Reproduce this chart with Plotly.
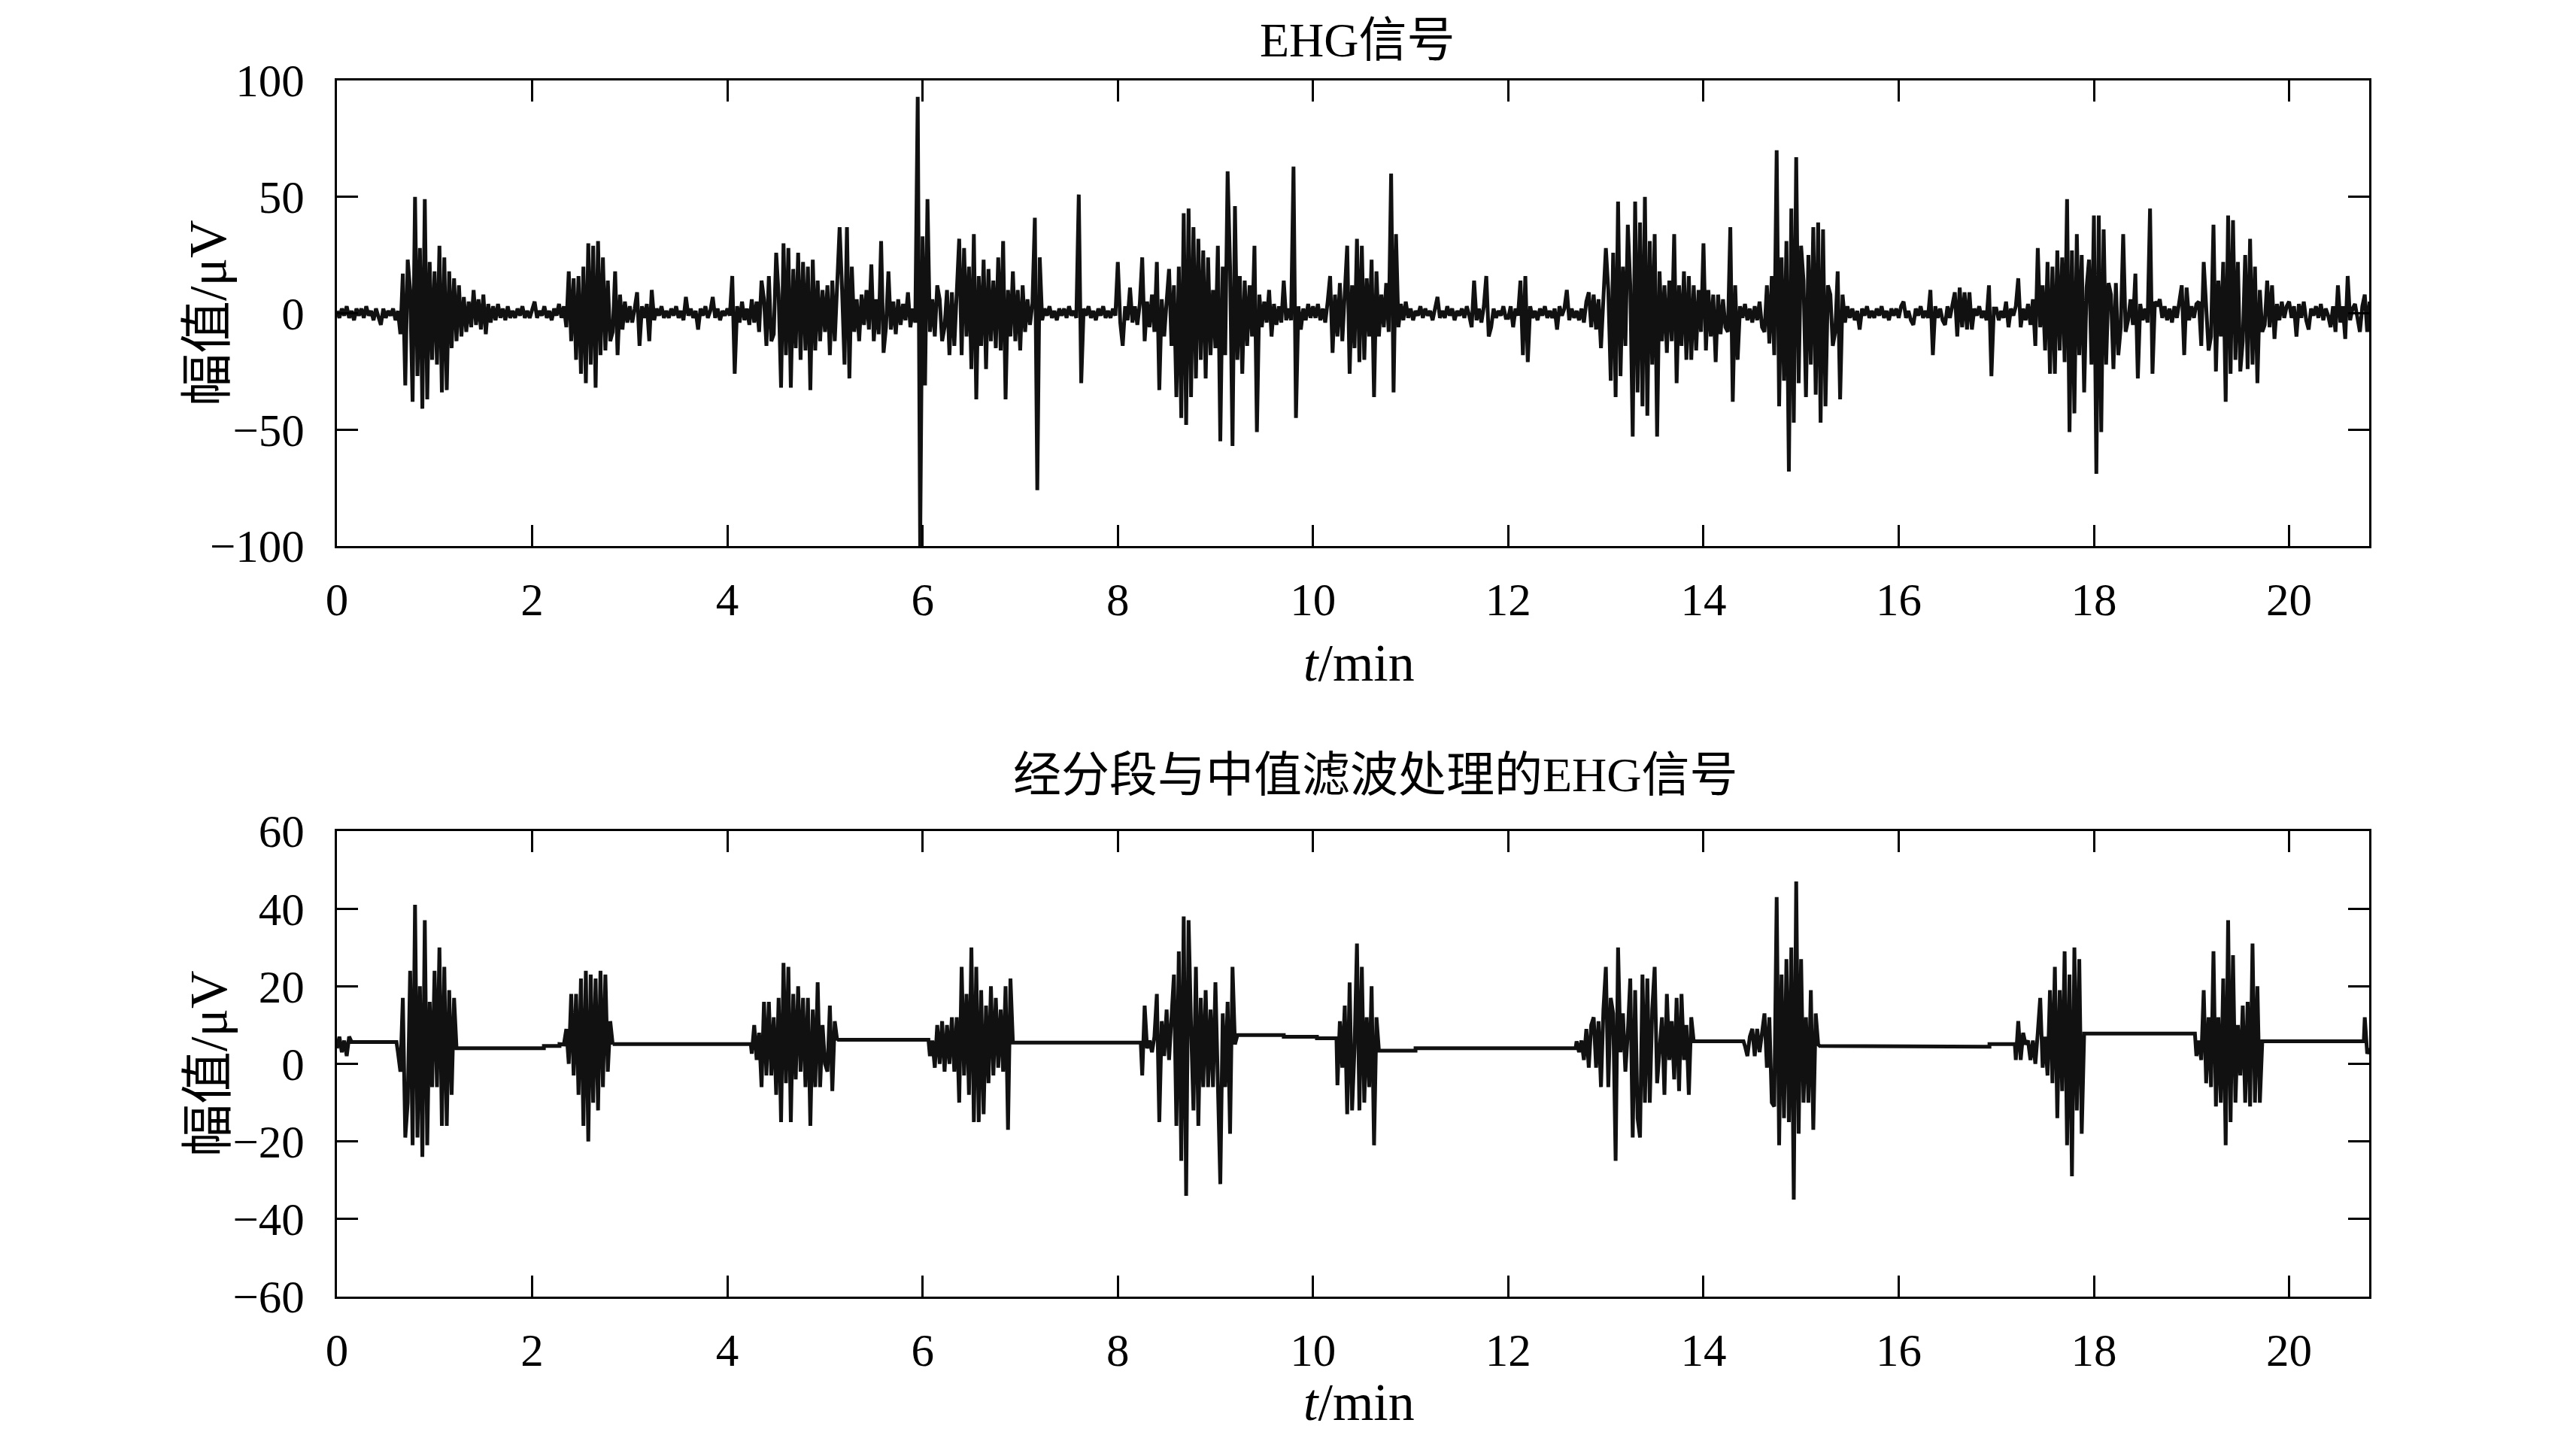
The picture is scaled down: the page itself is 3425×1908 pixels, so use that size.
import plotly.graph_objects as go

# ---------------- top panel: raw EHG signal, sampled every 0.025 min ----------------
TOP_DT = 0.025
top_m00 = [1,-2,2,-1,3,-2,1,-3,2,-1, 2,-2,3,-1,1,-3,2,-1,-5,2, -2,1,-1,2,-3,1,-9,17,-31,23, 10,-38,50,-27,28,-41,49,-37,22,-20]
top_m01 = [18,-22,29,-34,24,-33,18,-15,15,-12, 12,-10,7,-8,5,-6,10,-5,6,-7, 8,-9,4,-4,3,-3,4,-2,2,-3, 3,-2,1,-2,2,-1,3,-2,1,-2]
top_m02 = [2,5,-2,1,-1,3,-2,1,-3,2, -1,4,-2,3,-6,18,-12,15,-20,16, -26,20,-30,30,-22,29,-32,31,-18,24, -16,14,-12,-8,18,-18,8,-7,5,-4]
top_m03 = [3,-4,2,9,-14,3,-2,4,-12,10, -3,2,-1,3,-2,1,-2,2,-1,3, -2,1,-3,7,-1,2,-2,1,-7,2, -1,3,-2,1,7,-2,2,-3,1,-1]
top_m04 = [2,-1,16,-26,3,-4,5,-3,2,-5, 6,-4,5,-8,14,6,-14,16,-12,-9, 26,8,-32,30,-18,28,-32,19,-15,26, -20,22,-16,20,-33,23,-16,14,-12,10]
top_m05 = [-8,12,-18,14,-12,10,37,10,-22,37, -28,20,-8,6,-12,8,-5,10,-7,21, -12,6,-9,31,-17,-6,18,-7,5,-9, 6,-5,4,-3,9,-6,2,-4,93,-100]
top_m06 = [33,-31,49,-8,6,-10,12,6,-12,-6, 10,-18,9,-14,12,32,-18,28,-10,20, -24,34,-37,16,-14,23,-24,19,-12,14, -15,24,-16,31,-37,10,-10,18,-12,10]
top_m07 = [-16,12,-8,6,-5,4,41,-76,24,-3, 2,-1,3,-2,1,-3,2,-1,2,-2, 3,-1,1,-2,51,-30,2,-1,3,-2, 1,-3,2,-1,3,-2,1,-2,2,-1]
top_m08 = [22,-4,-14,3,-3,11,-4,3,-5,4, 24,-12,5,-6,8,-8,22,-33,6,-10, 5,19,-14,12,-36,20,-45,43,-48,45, -36,37,-28,32,-20,27,-28,24,-18,10]
top_m09 = [-15,29,-55,20,-18,61,20,-57,46,-20, 16,-26,14,-14,12,-10,29,-51,8,-6, 5,-4,10,-10,4,-5,3,-4,14,-3, 2,-3,63,-45,3,-7,2,-3,4,-2]
top_m10 = [3,-2,4,-3,2,-4,5,16,-17,8, -10,13,-12,10,29,-26,12,-15,32,-21, 29,-20,15,-10,23,-36,18,-10,8,-6, 13,-8,60,-34,34,-6,4,-3,5,-2]
top_m11 = [2,-3,1,-1,3,-2,2,-1,1,-3, 2,7,-2,1,-2,3,-1,2,-3,1, -1,2,-2,3,-1,-6,14,-3,2,-4, 3,16,-10,-6,2,-2,1,-1,3,-2]
top_m12 = [-2,3,-6,2,-1,14,-18,16,-21,3, -2,1,-3,2,-1,3,-2,1,-2,2, -7,3,-1,2,10,-3,2,-2,1,-3, 2,-4,5,9,-6,8,-7,6,-15,10]
top_m13 = [28,10,-29,26,-36,48,-27,20,-14,38, 12,-53,48,-34,39,-40,50,-44,31,-22, 34,-53,18,-12,12,-17,14,-12,34,-30, 12,-14,18,-20,16,-20,12,-16,10,-8]
top_m14 = [30,-16,10,-10,8,-21,8,-9,6,-6, -8,37,-38,12,-20,3,-2,4,-3,2, -4,3,-3,5,-6,-8,12,-13,16,-18, 70,-40,24,-29,31,-68,45,-47,67,-30]
top_m15 = [29,14,-36,25,-22,37,-35,39,-47,36, -40,12,8,-14,-8,18,-37,8,-4,3, -2,2,-3,1,-7,2,-1,3,-2,1, -2,2,-1,3,-2,1,-3,2,-1,2]
top_m16 = [-2,3,5,-2,1,-3,-5,2,-1,3, -2,1,-2,10,-18,3,-2,2,-3,-5, 3,-2,4,9,-10,11,-6,9,-7,9, -7,2,-1,3,-2,1,-3,12,-27,2]
top_m17 = [2,-3,1,-2,5,-6,2,-1,3,15, -6,2,-3,4,-5,6,-14,28,-6,12, -16,22,-26,20,-26,27,-16,24,-21,49, -51,27,-43,34,-18,25,-34,11,23,-22]
top_m18 = [42,-69,42,-51,36,-22,13,8,-24,13, -18,-6,34,-8,-3,6,-5,17,-28,4, -3,2,-4,45,-26,5,3,6,-2,3, -3,2,-4,3,-2,4,12,-18,11,-3]
top_m19 = [3,-2,4,5,-14,22,6,-16,-10,38, -25,14,-10,22,-38,42,-26,40,-20,22, -25,-12,25,-24,32,-22,20,-30,10,-8, -5,14,-6,12,-11,4,-3,5,-2,3]
top_m20 = [5,-2,3,-10,4,-2,5,-3,-7,2, -1,3,-2,4,-3,2,-1,-6,3,-8, 12,-4,3,-11,16,-3,2,4,-2,-8, 3,8,-8,5]

top_minutes = [top_m00, top_m01, top_m02, top_m03, top_m04, top_m05, top_m06,
               top_m07, top_m08, top_m09, top_m10, top_m11, top_m12, top_m13,
               top_m14, top_m15, top_m16, top_m17, top_m18, top_m19, top_m20]

# ---------------- bottom panel: segmented + median-filtered signal ----------------
BOT_DT = 0.025
bot_burst_start = [0.0, 0.625, 2.325, 4.25, 6.075, 8.25, 10.25, 12.70, 14.425, 17.2, 19.05, 20.775]
bot_b00 = [4,7,3,6,2,7,5.6]
bot_b01 = [3,-2,17,-19,-10,24,-21,41,-19,20, -24,37,-21,16,-6,24,-6,30,-16,25, -16,19,-8,17,4]
bot_b02 = [5,9,0,18,-3,18,-8,22,-16,24, -20,23,-10,22,-12,24,-6,23,-2,11,5]
bot_b03 = [2.6,10,1,8,-6,16,-3,16,-3,12, -8,17,-15,26,-5,25,-15,18,-4,20, -2,17,-6,17,-16,14,-6,21,-6,10, 0,-2,15,-7,11,6]
bot_b04 = [2,6,-1,10,0,11,-2,10,0,12, -2,12,-10,25,-3,18,-8,30,-15,25, -15,19,-13,15,-5,20,-3,17,-1,14, -2,20,-17,22,5.5]
bot_b05 = [-3,15,4,6,3,7,18,-15,11,2, 14,1,12,23,-16,29,-25,38,-34,37, 10,-12,25,-16,17,-6,19,-6,14,-6, 21,-10,-31,13,-6,16,-18,25,5,7.4]
bot_b06 = [-5.5,11,-1,15,-13,21,-12,4,31,-12, 25,-10,12,-6,20,-21,12,3.4]
bot_b07 = [5.8,3,6,1,9,-1,10,12,-1,11, -6,14,25,-6,17,13,-25,30,3,13, -2,8,22,-19,19,-14,-19,23,-10,22, -10,14,25,-5,5,12,-8,18,1,11, -4,17,-7,18,1,10,-8,12,5.8]
bot_b08 = [4.6,2,7,9,2,9,3,8,13,-1, 12,-10,-11,43,-21,23,-14,27,-15,30, -35,47,-18,27,-10,12,-10,19,-17,13, 5,4.6]
bot_b09 = [1,11,1,8,5,6,1,6,0,8, 17,-1,7,-3,19,-5,25,-14,19,-7, 29,-21,23,-29,30,-12,27,-18,7.8]
bot_b10 = [2,6,1,19,-5,12,-6,29,-11,12, -10,22,-21,37,-15,28,-10,10,-3,15, -10,16,-11,31,-10,20,-10,5.8]
bot_b11 = [12,2.6,4]
bot_bursts = [bot_b00, bot_b01, bot_b02, bot_b03, bot_b04, bot_b05,
              bot_b06, bot_b07, bot_b08, bot_b09, bot_b10, bot_b11]

bot_flat_start = [0.15, 1.225, 2.12, 2.28, 2.825, 5.125, 6.925, 9.225, 9.70, 10.04, 10.675, 11.05, 13.9, 15.2, 16.93, 17.9, 19.725]
bot_flat_end   = [0.61, 2.12, 2.28, 2.31, 4.24, 6.06, 8.235, 9.70, 10.04, 10.24, 11.05, 12.69, 14.41, 16.93, 17.19, 19.035, 20.765]
bot_flat_level = [5.6, 4.0, 4.6, 5.1, 5.1, 6.2, 5.5, 7.4, 7.0, 6.6, 3.4, 4.0, 5.8, 4.4, 5.1, 7.8, 5.8]

x_ticks = list(range(0, 21, 2))
top_yticks = [-100, -50, 0, 50, 100]
bot_yticks = [-60, -40, -20, 0, 20, 40, 60]

title_top = "EHG信号"
title_bot = "经分段与中值滤波处理的EHG信号"
x_label = "<i>t</i>/min"
y_label = "幅值/μV"

# ---------------- build series ----------------
t_top, v_top = [], []
for m, vals in enumerate(top_minutes):
    for k, v in enumerate(vals):
        t_top.append(m + k * TOP_DT)
        v_top.append(v)

pts = []
for s, vals in zip(bot_burst_start, bot_bursts):
    for k, v in enumerate(vals):
        pts.append((s + k * BOT_DT, v))
for s, e, lv in zip(bot_flat_start, bot_flat_end, bot_flat_level):
    pts.append((s, lv))
    pts.append((e, lv))
pts.sort(key=lambda p: p[0])
t_bot = [p[0] for p in pts]
v_bot = [p[1] for p in pts]

# ---------------- figure ----------------
OFF = 8                      # page body margin
W, H = 3425 - OFF, 1908 - OFF
LINE = "#111111"
SERIF = "Liberation Serif, Noto Sans CJK SC, serif"

fig = go.Figure()
fig.add_trace(go.Scatter(x=t_top, y=v_top, mode="lines",
                         line=dict(color=LINE, width=5), xaxis="x", yaxis="y",
                         showlegend=False, hoverinfo="skip"))
fig.add_trace(go.Scatter(x=t_bot, y=v_bot, mode="lines",
                         line=dict(color=LINE, width=5), xaxis="x2", yaxis="y2",
                         showlegend=False, hoverinfo="skip"))

def px_x(p):
    return (p - OFF) / W

def px_y(p):
    return 1 - (p - OFF) / H

axis_common = dict(showline=True, linewidth=3, linecolor="black", mirror="ticks",
                   ticks="inside", ticklen=28, tickwidth=3, tickcolor="black",
                   showgrid=False, zeroline=False, automargin=False,
                   tickfont=dict(family=SERIF, size=61, color="black"))

xdom = [px_x(448), px_x(3150)]
fig.update_layout(
    width=W, height=H, autosize=False,
    paper_bgcolor="white", plot_bgcolor="white",
    margin=dict(l=0, r=0, t=0, b=0, pad=0, autoexpand=False),
    xaxis=dict(domain=xdom, range=[0, 20.82], tickvals=x_ticks, anchor="y",
               ticklabelstandoff=16, **axis_common),
    yaxis=dict(domain=[px_y(726), px_y(107)], range=[-100, 100], tickvals=top_yticks,
               anchor="x", ticklabelstandoff=28, **axis_common),
    xaxis2=dict(domain=xdom, range=[0, 20.82], tickvals=x_ticks, anchor="y2",
                ticklabelstandoff=16, **axis_common),
    yaxis2=dict(domain=[px_y(1724), px_y(1105)], range=[-60, 60], tickvals=bot_yticks,
                anchor="x2", ticklabelstandoff=28, **axis_common),
)

ann_font = dict(family=SERIF, size=64, color="black")
lab_font = dict(family=SERIF, size=70, color="black")
annotations = [
    dict(text=title_top, x=px_x(1805), y=px_y(54), xref="paper", yref="paper",
         showarrow=False, font=ann_font, xanchor="center", yanchor="middle"),
    dict(text=title_bot, x=px_x(1829), y=px_y(1031), xref="paper", yref="paper",
         showarrow=False, font=ann_font, xanchor="center", yanchor="middle"),
    dict(text=x_label, x=px_x(1807), y=px_y(882), xref="paper", yref="paper",
         showarrow=False, font=lab_font, xanchor="center", yanchor="middle"),
    dict(text=x_label, x=px_x(1807), y=px_y(1864), xref="paper", yref="paper",
         showarrow=False, font=lab_font, xanchor="center", yanchor="middle"),
    dict(text=y_label, x=px_x(277), y=px_y(416), xref="paper", yref="paper",
         showarrow=False, font=lab_font, textangle=-90, xanchor="center", yanchor="middle"),
    dict(text=y_label, x=px_x(277), y=px_y(1414), xref="paper", yref="paper",
         showarrow=False, font=lab_font, textangle=-90, xanchor="center", yanchor="middle"),
]
fig.update_layout(annotations=annotations)

fig.write_html("out.html")
